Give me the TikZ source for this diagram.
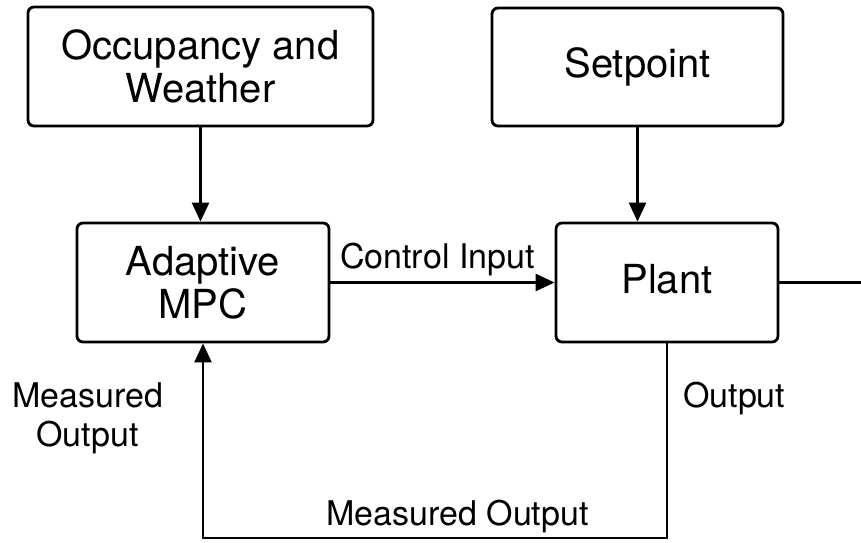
\documentclass[tikz,border=0pt]{standalone}
\usepackage{fontspec}
\setmainfont{TeX Gyre Heros}
\usetikzlibrary{arrows.meta}
\begin{document}
\begin{tikzpicture}[x=1pt,y=-1pt,
  blk/.style={draw, line width=2.8pt, rounded corners=6pt, inner sep=0pt, align=center, font=\fontsize{40}{43}\selectfont},
  lbl/.style={inner sep=0pt, font=\fontsize{34}{39}\selectfont},
  conn/.style={line width=2.5pt, -{Triangle[length=19pt,width=17pt]}},
  wire/.style={line width=2.5pt}]
\useasboundingbox (0,0) rectangle (861,542);
\node[blk, minimum width=345pt, minimum height=119pt] (occ) at (200.5,66.5) {Occupancy and\\Weather};
\node[blk, minimum width=291pt, minimum height=118pt] (set) at (637.5,67) {Setpoint};
\node[blk, minimum width=252pt, minimum height=119pt] (mpc) at (203,282.5) {Adaptive\\MPC};
\node[blk, minimum width=222pt, minimum height=119pt, text depth=8pt] (plant) at (667,282.5) {Plant};
\coordinate (rend) at (861,282.5);
\coordinate (bot) at (0,538);
\draw[conn] (occ.south) -- (occ.south |- mpc.north);
\draw[conn] (set.south) -- (set.south |- plant.north);
\draw[conn] (mpc.east) -- (plant.west);
\draw[wire] (plant.east) -- (rend);
\draw[conn] (plant.south) -- (plant.south |- bot) -| (mpc.south);
\node[lbl, anchor=base] (ci) at (437.5,268) {Control Input};
\node[lbl, anchor=base west] (out) at (683,407) {Output};
\node[lbl, anchor=base] (mo) at (457.5,525) {Measured Output};
\node[lbl, align=center] (mol) at (87.5,418) {Measured\\Output};
\end{tikzpicture}
\end{document}
